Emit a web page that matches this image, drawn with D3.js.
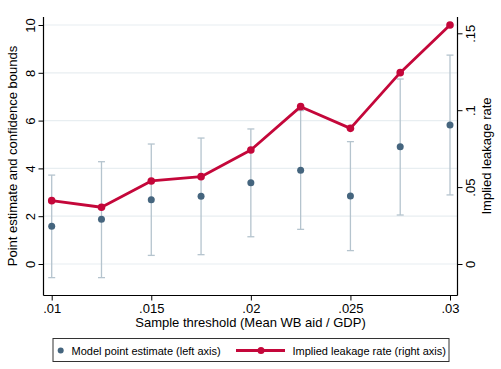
<!DOCTYPE html>
<html>
<head>
<meta charset="utf-8">
<script src="https://cdn.jsdelivr.net/npm/d3@7"></script>
<style>
  html, body { margin: 0; padding: 0; background: #fff; }
  svg { display: block; font-family: "Liberation Sans", Arial, sans-serif; }
</style>
</head>
<body>
<svg id="chart" width="501" height="369"></svg>
<script>
// ---- data ----
const thresholds = [0.01, 0.0125, 0.015, 0.0175, 0.02, 0.0225, 0.025, 0.0275, 0.03];
const pointEstimate = [1.58, 1.87, 2.69, 2.83, 3.40, 3.92, 2.85, 4.91, 5.82];
const upperBound   = [3.72, 4.28, 5.02, 5.27, 5.65, 6.42, 5.12, 7.74, 8.74];
const lowerBound   = [-0.57, -0.57, 0.36, 0.39, 1.14, 1.45, 0.56, 2.05, 2.89];
const leakageRate  = [0.0412, 0.0369, 0.054, 0.0568, 0.0741, 0.1023, 0.0882, 0.1244, 0.1554];
const xTicks = [0.01, 0.015, 0.02, 0.025, 0.03];
const xTickLabels = [".01", ".015", ".02", ".025", ".03"];
const leftTicks = [0, 2, 4, 6, 8, 10];
const rightTicks = [0, 0.05, 0.1, 0.15];
const rightTickLabels = ["0", ".05", ".1", ".15"];
const xTitle = "Sample threshold (Mean WB aid / GDP)";
const leftTitle = "Point estimate and confidence bounds";
const rightTitle = "Implied leakage rate";
const legendLabels = ["Model point estimate (left axis)", "Implied leakage rate (right axis)"];

// ---- style ----
const FONT = '"Liberation Sans", Arial, sans-serif';
const blue = "#45657e", red = "#c4073a", barColor = "#b5c4ce", gridColor = "#e8eef1";

const svg = d3.select("#chart");
const plot = { left: 43.5, right: 457.5, top: 17, bottom: 295.5 };

const x = d3.scaleLinear().domain([0.01, 0.03]).range([51.7, 450]);
const yL = d3.scaleLinear().domain([0, 10]).range([264, 25]);
const yR = d3.scaleLinear().domain([0, 0.15]).range([264, 33.3]);

// gridlines
svg.append("g").selectAll("line").data(leftTicks).join("line")
  .attr("x1", plot.left).attr("x2", plot.right)
  .attr("y1", d => yL(d)).attr("y2", d => yL(d))
  .attr("stroke", gridColor).attr("stroke-width", 1.2);

// axes
const xAxis = d3.axisBottom(x).tickValues(xTicks).tickFormat((d, i) => xTickLabels[i]).tickSize(5).tickSizeOuter(0);
const gx = svg.append("g").attr("transform", `translate(0,${plot.bottom})`).call(xAxis);
gx.select(".domain").attr("d", `M${plot.left},0H${plot.right}`);
gx.selectAll("text").attr("font-size", 13).attr("fill", "#000").attr("dy", "0.85em").attr("y", 6);

const yAxisL = d3.axisLeft(yL).tickValues(leftTicks).tickFormat(d3.format("d")).tickSize(5).tickSizeOuter(0);
const gl = svg.append("g").attr("transform", `translate(${plot.left},0)`).call(yAxisL);
gl.select(".domain").attr("d", `M0,${plot.top}V${plot.bottom}`);
gl.selectAll(".tick text").attr("font-size", 13).attr("fill", "#000")
  .attr("x", 0).attr("dy", 0)
  .attr("transform", "translate(-9,0) rotate(-90)")
  .attr("text-anchor", "middle");

const yAxisR = d3.axisRight(yR).tickValues(rightTicks).tickFormat((d, i) => rightTickLabels[i]).tickSize(5).tickSizeOuter(0);
const gr = svg.append("g").attr("transform", `translate(${plot.right},0)`).call(yAxisR);
gr.select(".domain").attr("d", `M0,${plot.top}V${plot.bottom}`);
gr.selectAll(".tick text").attr("font-size", 13).attr("fill", "#000")
  .attr("x", 0).attr("dy", 0)
  .attr("transform", "translate(17,0) rotate(-90)")
  .attr("text-anchor", "middle");

[gx, gl, gr].forEach(g => g.attr("font-family", FONT));
svg.selectAll(".domain").attr("stroke", "#000").attr("stroke-width", 1.2);
svg.selectAll(".tick line").attr("stroke", "#000");

// titles
svg.append("text").attr("x", 250.5).attr("y", 327).attr("text-anchor", "middle")
  .attr("font-size", 13).text(xTitle);
svg.append("text").attr("transform", `translate(17,156) rotate(-90)`).attr("text-anchor", "middle")
  .attr("font-size", 13).text(leftTitle);
svg.append("text").attr("transform", `translate(491,156) rotate(-90)`).attr("text-anchor", "middle")
  .attr("font-size", 13).text(rightTitle);

// error bars
const idx = d3.range(thresholds.length);
const eb = svg.append("g").attr("stroke", barColor).attr("stroke-width", 1.3).attr("fill", "none");
eb.selectAll("line.v").data(idx).join("line").attr("class", "v")
  .attr("x1", i => x(thresholds[i])).attr("x2", i => x(thresholds[i]))
  .attr("y1", i => yL(lowerBound[i])).attr("y2", i => yL(upperBound[i]));
eb.selectAll("line.u").data(idx).join("line").attr("class", "u")
  .attr("x1", i => x(thresholds[i]) - 3.5).attr("x2", i => x(thresholds[i]) + 3.5)
  .attr("y1", i => yL(upperBound[i])).attr("y2", i => yL(upperBound[i]));
eb.selectAll("line.l").data(idx).join("line").attr("class", "l")
  .attr("x1", i => x(thresholds[i]) - 3.5).attr("x2", i => x(thresholds[i]) + 3.5)
  .attr("y1", i => yL(lowerBound[i])).attr("y2", i => yL(lowerBound[i]));

// point estimates
svg.append("g").selectAll("circle").data(idx).join("circle")
  .attr("cx", i => x(thresholds[i])).attr("cy", i => yL(pointEstimate[i]))
  .attr("r", 3.5).attr("fill", blue);

// leakage line
const line = d3.line().x(i => x(thresholds[i])).y(i => yR(leakageRate[i]));
svg.append("path").datum(idx).attr("d", line)
  .attr("fill", "none").attr("stroke", red).attr("stroke-width", 2.8).attr("stroke-linejoin", "round");
svg.append("g").selectAll("circle").data(idx).join("circle")
  .attr("cx", i => x(thresholds[i])).attr("cy", i => yR(leakageRate[i]))
  .attr("r", 3.8).attr("fill", red);

// legend
const lg = svg.append("g");
lg.append("rect").attr("x", 53).attr("y", 338.5).attr("width", 396).attr("height", 23)
  .attr("fill", "#fff").attr("stroke", "#333").attr("stroke-width", 1);
lg.append("circle").attr("cx", 60.7).attr("cy", 350.5).attr("r", 3).attr("fill", blue);
lg.append("text").attr("x", 71.5).attr("y", 354.5).attr("font-size", 11).text(legendLabels[0]);
lg.append("line").attr("x1", 236).attr("x2", 285).attr("y1", 350.5).attr("y2", 350.5)
  .attr("stroke", red).attr("stroke-width", 2.8);
lg.append("circle").attr("cx", 261).attr("cy", 350.5).attr("r", 3.5).attr("fill", red);
lg.append("text").attr("x", 292.5).attr("y", 354.5).attr("font-size", 11).text(legendLabels[1]);
</script>
</body>
</html>
